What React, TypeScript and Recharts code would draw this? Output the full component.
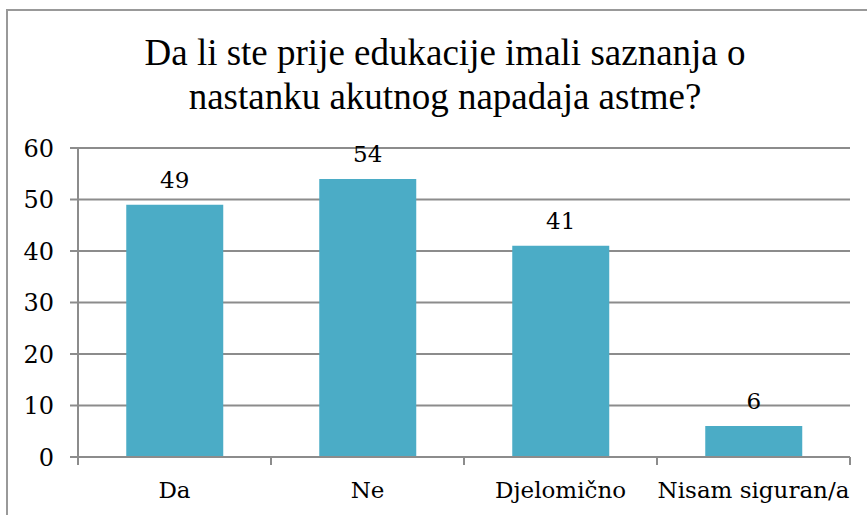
import React from 'react';
import { BarChart, Bar, XAxis, YAxis, CartesianGrid, LabelList } from 'recharts';

const categories = ['Da', 'Ne', 'Djelomično', 'Nisam siguran/a'];
const counts = [49, 54, 41, 6];
const yTicks = [0, 10, 20, 30, 40, 50, 60];

const data = categories.map((name, i) => ({ name, value: counts[i] }));

const AXIS = '#8c8c8c';
const FONT = 'DejaVu Serif';

// Excel-style category axis: ticks sit between categories, not under labels
const CategoryTick = (props: any) => {
  const { x, y, payload, index } = props;
  const half = payload && payload.offset ? payload.offset : 96.5;
  const axisY = y - 25;
  return (
    <g>
      <line x1={x - half} y1={axisY} x2={x - half} y2={axisY + 8} stroke={AXIS} strokeWidth={2} />
      {index === categories.length - 1 && (
        <line x1={x + half} y1={axisY} x2={x + half} y2={axisY + 8} stroke={AXIS} strokeWidth={2} />
      )}
      <text x={x} y={y} dy="0.71em" textAnchor="middle" fill="#000" fontSize={23} fontFamily={FONT}>
        {payload.value}
      </text>
    </g>
  );
};

const ValueTick = (props: any) => {
  const { x, y, payload } = props;
  return (
    <text x={x} y={y} dy="0.36em" textAnchor="end" fill="#000" fontSize={24} fontFamily={FONT}>
      {payload.value}
    </text>
  );
};

export default function App() {
  return (
    <div style={{ position: 'absolute', left: 0, top: 0, width: 867, height: 515, background: '#fff', overflow: 'hidden' }}>
      <div style={{ position: 'absolute', left: 6, top: 9, width: 900, height: 600, borderLeft: '2px solid #999', borderTop: '2px solid #999' }} />
      <div
        style={{
          position: 'absolute',
          left: 6,
          top: 31,
          width: 878,
          textAlign: 'center',
          fontFamily: 'Liberation Serif',
          fontSize: 37,
          lineHeight: '44px',
          color: '#000',
        }}
      >
        Da li ste prije edukacije imali saznanja o<br />nastanku akutnog napadaja astme?
      </div>
      <div style={{ position: 'absolute', left: 0, top: 0 }}>
        <BarChart width={867} height={515} data={data} margin={{ top: 148, right: 17, left: 0, bottom: 0 }} barCategoryGap="25%">
          <CartesianGrid vertical={false} stroke={AXIS} strokeWidth={2} />
          <XAxis
            dataKey="name"
            height={58}
            tickSize={8}
            tickMargin={17}
            tickLine={false}
            axisLine={{ stroke: AXIS, strokeWidth: 2 }}
            tick={<CategoryTick />}
            interval={0}
          />
          <YAxis
            width={78}
            domain={[0, 60]}
            ticks={yTicks}
            tickSize={8}
            tickMargin={16}
            axisLine={{ stroke: AXIS, strokeWidth: 2 }}
            tickLine={{ stroke: AXIS, strokeWidth: 2 }}
            tick={<ValueTick />}
            interval={0}
          />
          <Bar dataKey="value" fill="#4BACC6" isAnimationActive={false}>
            <LabelList dataKey="value" position="top" offset={17} style={{ fill: '#000', fontSize: 23, fontFamily: FONT }} />
          </Bar>
        </BarChart>
      </div>
    </div>
  );
}
